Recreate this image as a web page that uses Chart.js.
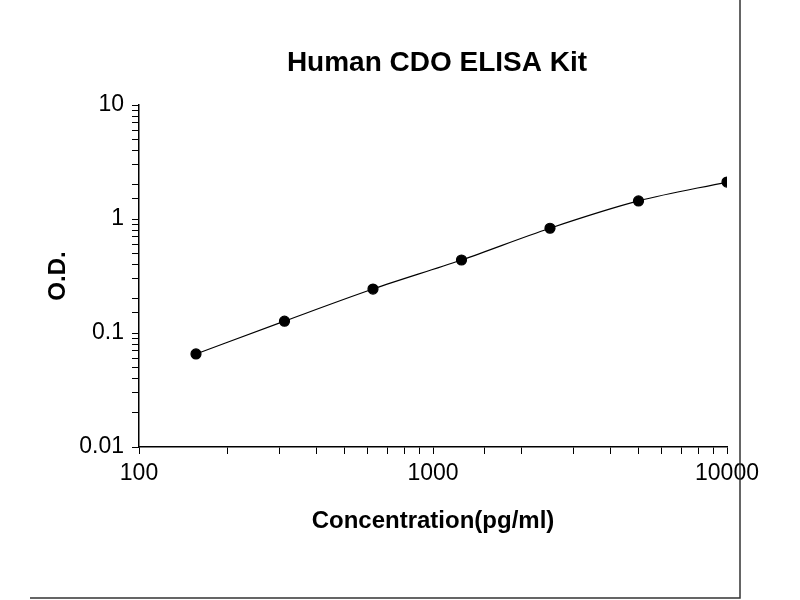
<!DOCTYPE html>
<html>
<head>
<script src="https://cdn.jsdelivr.net/npm/chart.js@4"></script>
<style>body{margin:0;background:#fff}#wrap{width:800px;height:600px}</style>
</head>
<body>
<div id="wrap"><canvas id="grafico"></canvas></div>
<script>
const concentracoes = [156.25, 312.5, 625, 1250, 2500, 5000, 10000]
const densidades = [0.0655, 0.127, 0.243, 0.437, 0.83, 1.44, 2.11]
const ticksX = [100, 1000, 10000]
const ticksY = [0.01, 0.1, 1, 10]
const titulo = 'Human CDO ELISA Kit'

// moldura da imagem original e titulo centrado sobre a area do grafico
const moldura = {
  id: 'moldura',
  afterDraw(chart) {
    const c = chart.ctx
    c.save()
    c.strokeStyle = '#333'
    c.lineWidth = 1.5
    c.beginPath()
    c.moveTo(740, 0); c.lineTo(740, 598); c.lineTo(30, 598)
    c.stroke()
    c.fillStyle = '#000'
    c.font = 'bold 28px "Liberation Sans"'
    c.textAlign = 'center'
    c.textBaseline = 'middle'
    c.fillText(titulo, (chart.chartArea.left + chart.chartArea.right) / 2 + 4, 63)
    c.restore()
  }
}

new Chart(document.getElementById('grafico'), {
  type: 'line',
  data: {
    datasets: [{
      data: concentracoes.map((x, i) => ({x: x, y: densidades[i]})),
      borderColor: '#000',
      borderWidth: 1.2,
      backgroundColor: '#000',
      pointRadius: 5,
      pointBackgroundColor: '#000',
      cubicInterpolationMode: 'monotone'
    }]
  },
  options: {
    responsive: true,
    maintainAspectRatio: false,
    animation: false,
    layout: {padding: {left: 40, right: 73, top: 105, bottom: 60}},
    plugins: {
      legend: {display: false},
      tooltip: {enabled: false}
    },
    scales: {
      x: {
        type: 'logarithmic',
        min: 100, max: 10000,
        afterFit: s => { s.height = 93 },
        border: {color: '#000', width: 1.5},
        grid: {drawOnChartArea: false, color: '#000', tickLength: 7},
        ticks: {
          color: '#000',
          font: {family: 'Liberation Sans', size: 23},
          autoSkip: false, maxRotation: 0, padding: 6,
          callback: v => ticksX.includes(v) ? String(v) : ''
        },
        title: {display: true, text: 'Concentration(pg/ml)', color: '#000',
          font: {family: 'Liberation Sans', size: 24, weight: 'bold'}, padding: {top: 0, bottom: 4}}
      },
      y: {
        type: 'logarithmic',
        min: 0.01, max: 10,
        afterFit: s => { s.width = 99 },
        border: {color: '#000', width: 1.5},
        grid: {drawOnChartArea: false, color: '#000', tickLength: 7},
        ticks: {
          color: '#000',
          font: {family: 'Liberation Sans', size: 23},
          autoSkip: false, padding: 8,
          callback: v => ticksY.includes(Number(v.toPrecision(3))) ? String(Number(v.toPrecision(3))) : ''
        },
        title: {display: true, text: 'O.D.', color: '#000',
          font: {family: 'Liberation Sans', size: 24, weight: 'bold'}, padding: {top: 4, bottom: 0}}
      }
    }
  },
  plugins: [moldura]
})
</script>
</body>
</html>
